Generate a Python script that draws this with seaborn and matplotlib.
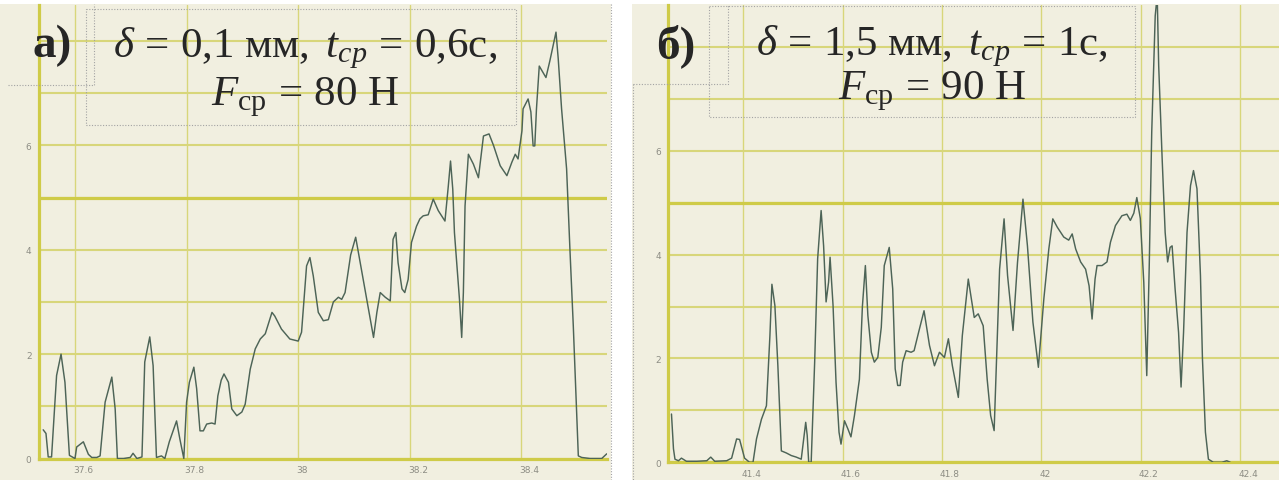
import matplotlib
matplotlib.use("Agg")
import matplotlib.pyplot as plt
import seaborn as sns
from matplotlib.patches import Rectangle
from matplotlib.lines import Line2D
import matplotlib.transforms as mtrans

# ---------------- data ----------------
left_t = [37.543, 37.548, 37.552, 37.558, 37.567, 37.575, 37.582, 37.590, 37.600, 37.603,
          37.615, 37.624, 37.630, 37.639, 37.645, 37.654, 37.666, 37.672, 37.676, 37.687,
          37.699, 37.704, 37.711, 37.720, 37.725, 37.734, 37.740, 37.746, 37.755, 37.761,
          37.769, 37.782, 37.788, 37.795, 37.800, 37.805, 37.813, 37.818, 37.824, 37.830,
          37.836, 37.845, 37.851, 37.856, 37.862, 37.867, 37.875, 37.881, 37.890, 37.899,
          37.905, 37.914, 37.923, 37.932, 37.941, 37.953, 37.958, 37.970, 37.985, 38.000,
          38.006, 38.015, 38.021, 38.027, 38.036, 38.045, 38.054, 38.063, 38.072, 38.078,
          38.084, 38.094, 38.103, 38.111, 38.123, 38.135, 38.141, 38.147, 38.156, 38.165,
          38.170, 38.175, 38.179, 38.186, 38.191, 38.197, 38.203, 38.212, 38.218, 38.224,
          38.233, 38.242, 38.251, 38.263, 38.269, 38.273, 38.277, 38.280, 38.284, 38.289,
          38.293, 38.296, 38.299, 38.305, 38.314, 38.323, 38.332, 38.342, 38.350, 38.362,
          38.374, 38.383, 38.389, 38.394, 38.401, 38.403, 38.412, 38.417, 38.421, 38.424,
          38.427, 38.432, 38.439, 38.444, 38.451, 38.462, 38.466, 38.472, 38.481, 38.487,
          38.493, 38.498, 38.502, 38.508, 38.523, 38.535, 38.544, 38.553]
left_f = [0.55, 0.48, 0.03, 0.03, 1.59, 2.00, 1.46, 0.06, 0.00, 0.22,
          0.32, 0.08, 0.02, 0.02, 0.05, 1.08, 1.56, 0.95, 0.00, 0.00,
          0.02, 0.10, 0.00, 0.03, 1.85, 2.33, 1.78, 0.02, 0.05, 0.00,
          0.32, 0.72, 0.37, 0.00, 1.08, 1.46, 1.75, 1.34, 0.53, 0.53,
          0.66, 0.68, 0.66, 1.20, 1.50, 1.62, 1.46, 0.95, 0.82, 0.89,
          1.04, 1.71, 2.10, 2.29, 2.39, 2.80, 2.73, 2.48, 2.29, 2.25,
          2.42, 3.69, 3.85, 3.50, 2.80, 2.64, 2.66, 3.00, 3.09, 3.05,
          3.18, 3.90, 4.24, 3.76, 3.05, 2.32, 2.80, 3.18, 3.09, 3.02,
          4.20, 4.33, 3.75, 3.25, 3.18, 3.43, 4.14, 4.45, 4.59, 4.65,
          4.67, 4.97, 4.75, 4.55, 5.22, 5.70, 5.16, 4.33, 3.76, 3.05,
          2.32, 3.18, 4.84, 5.83, 5.64, 5.38, 6.18, 6.22, 6.00, 5.61,
          5.42, 5.68, 5.83, 5.74, 6.28, 6.70, 6.89, 6.64, 5.99, 5.99,
          6.70, 7.52, 7.39, 7.30, 7.62, 8.17, 7.66, 6.70, 5.55, 4.00,
          2.54, 1.14, 0.05, 0.02, 0.00, 0.00, 0.00, 0.09]

right_t = [41.256, 41.260, 41.263, 41.270, 41.276, 41.286, 41.307, 41.327, 41.335, 41.343,
           41.367, 41.377, 41.387, 41.393, 41.403, 41.413, 41.420, 41.427, 41.437, 41.447,
           41.454, 41.458, 41.464, 41.470, 41.477, 41.487, 41.497, 41.507, 41.517, 41.526,
           41.529, 41.532, 41.537, 41.544, 41.550, 41.557, 41.562, 41.567, 41.572, 41.575,
           41.581, 41.587, 41.593, 41.597, 41.604, 41.611, 41.617, 41.624, 41.634, 41.640,
           41.646, 41.651, 41.658, 41.664, 41.671, 41.678, 41.684, 41.694, 41.701, 41.706,
           41.711, 41.716, 41.721, 41.728, 41.738, 41.744, 41.754, 41.764, 41.775, 41.785,
           41.795, 41.805, 41.813, 41.821, 41.833, 41.841, 41.853, 41.865, 41.873, 41.883,
           41.891, 41.898, 41.905, 41.910, 41.916, 41.925, 41.932, 41.943, 41.952, 41.963,
           41.972, 41.983, 41.994, 42.005, 42.015, 42.023, 42.032, 42.045, 42.055, 42.062,
           42.069, 42.079, 42.089, 42.096, 42.102, 42.108, 42.112, 42.122, 42.132, 42.139,
           42.149, 42.162, 42.172, 42.179, 42.186, 42.192, 42.199, 42.206, 42.212, 42.217,
           42.222, 42.229, 42.233, 42.236, 42.243, 42.249, 42.254, 42.259, 42.263, 42.269,
           42.276, 42.281, 42.286, 42.293, 42.300, 42.306, 42.313, 42.320, 42.324, 42.330,
           42.336, 42.346, 42.363, 42.373, 42.380]
right_f = [0.93, 0.26, 0.06, 0.03, 0.08, 0.02, 0.02, 0.03, 0.10, 0.02,
           0.03, 0.08, 0.45, 0.44, 0.08, 0.00, 0.00, 0.45, 0.83, 1.09,
           2.44, 3.43, 3.02, 1.86, 0.22, 0.18, 0.13, 0.10, 0.06, 0.77,
           0.52, 0.00, 0.00, 1.93, 3.92, 4.85, 4.17, 3.09, 3.47, 3.95,
           3.02, 1.54, 0.58, 0.35, 0.80, 0.64, 0.49, 0.90, 1.60, 3.00,
           3.79, 2.83, 2.12, 1.93, 2.02, 2.60, 3.79, 4.14, 3.34, 1.80,
           1.48, 1.48, 1.93, 2.15, 2.12, 2.15, 2.54, 2.92, 2.25, 1.86,
           2.12, 2.02, 2.38, 1.86, 1.25, 2.44, 3.53, 2.79, 2.86, 2.63,
           1.60, 0.90, 0.61, 2.05, 3.72, 4.69, 3.60, 2.54, 3.85, 5.07,
           4.17, 2.70, 1.83, 3.15, 4.11, 4.69, 4.53, 4.34, 4.28, 4.40,
           4.11, 3.86, 3.72, 3.40, 2.76, 3.53, 3.79, 3.79, 3.86, 4.24,
           4.56, 4.75, 4.78, 4.66, 4.80, 5.10, 4.70, 3.47, 1.67, 3.79,
           6.36, 8.60, 9.00, 7.64, 5.84, 4.43, 3.86, 4.14, 4.17, 3.34,
           2.50, 1.45, 2.50, 4.43, 5.33, 5.62, 5.27, 3.60, 2.00, 0.58,
           0.06, 0.00, 0.00, 0.03, 0.00]

left_ticks = [37.6, 37.8, 38.0, 38.2, 38.4]
left_tick_labels = ["37.6", "37.8", "38", "38.2", "38.4"]
right_ticks = [41.4, 41.6, 41.8, 42.0, 42.2, 42.4]
right_tick_labels = ["41.4", "41.6", "41.8", "42", "42.2", "42.4"]
y_ticks = [0, 1, 2, 3, 4, 5, 6, 7, 8]
y_tick_labels = ["0", "", "2", "", "4", "", "6", "", ""]
panel_labels = ["а)", "б)"]
line1_texts = [r"$\delta\,=\,0{,}1\ \mathrm{мм},\ t_{ср}\,=\,0{,}6\mathrm{с},$",
               r"$\delta\,=\,1{,}5\ \mathrm{мм},\ t_{ср}\,=\,1\mathrm{с},$"]
line2_texts = [r"$F_{\mathrm{ср}}\,=\,80\ \mathrm{Н}$",
               r"$F_{\mathrm{ср}}\,=\,90\ \mathrm{Н}$"]

# ---------------- style ----------------
sns.set_style("white")
plt.rcParams["font.family"] = ["Liberation Serif", "DejaVu Sans"]
plt.rcParams["mathtext.fontset"] = "custom"
plt.rcParams["mathtext.rm"] = "Liberation Serif"
plt.rcParams["mathtext.it"] = "Liberation Serif:italic"
plt.rcParams["mathtext.bf"] = "Liberation Serif:bold"

BG = "#f1efe0"
GRID = "#d8d67a"
GRID_STRONG = "#cfcb48"
LINE = "#4d6457"
LABEL = "#8d8d84"
TEXT = "#262626"
BOX = "#a3a3a3"

W, H = 1279, 481
fig = plt.figure(figsize=(W / 100, H / 100), dpi=100)
fig.patch.set_facecolor("white")


def fx(px):
    return px / W


def fy(py):
    return 1 - py / H


# panel backgrounds
fig.add_artist(Rectangle((fx(0), fy(481)), fx(611), (481 - 5) / H,
                         transform=fig.transFigure, facecolor=BG,
                         edgecolor="none", zorder=0))
fig.add_artist(Rectangle((fx(632), fy(481)), fx(W - 632), (481 - 5) / H,
                         transform=fig.transFigure, facecolor=BG,
                         edgecolor="none", zorder=0))


def dotted(xs, ys):
    fig.add_artist(Line2D([fx(x) for x in xs], [fy(y) for y in ys],
                          transform=fig.transFigure, color=BOX, lw=0.8,
                          ls=(0, (1, 1.5)), zorder=5))


panels = [
    dict(rect=(38.5, 607, 6, 459.5), xlim=(37.5346, 38.5534), ylim=(0, 8.69),
         t=left_t, f=left_f, ticks=left_ticks, labels=left_tick_labels),
    dict(rect=(668, 1279, 6, 463.3), xlim=(41.249, 42.478), ylim=(0, 8.81),
         t=right_t, f=right_f, ticks=right_ticks, labels=right_tick_labels),
]

for p in panels:
    x0, x1, yt, yb = p["rect"]
    ax = fig.add_axes([fx(x0), fy(yb), (x1 - x0) / W, (yb - yt) / H])
    ax.set_facecolor(BG)
    ax.set_xlim(*p["xlim"])
    ax.set_ylim(*p["ylim"])
    ax.set_xticks(p["ticks"])
    ax.set_xticklabels(p["labels"])
    ax.set_yticks(y_ticks)
    ax.set_yticklabels(y_tick_labels)
    ax.tick_params(length=0, labelsize=6.5, labelcolor=LABEL)
    ax.tick_params(axis="x", pad=5)
    ax.tick_params(axis="y", pad=5)
    for lab in ax.get_xticklabels() + ax.get_yticklabels():
        lab.set_family("DejaVu Sans")
    for lab in ax.get_xticklabels():
        lab.set_ha("left")
        lab.set_transform(lab.get_transform() +
                          mtrans.ScaledTranslation(-2 / 100, 0, fig.dpi_scale_trans))
    ax.grid(True, axis="y", color=GRID, lw=1.5, zorder=1)
    ax.grid(True, axis="x", color=GRID, lw=1.0, zorder=1)
    ax.set_axisbelow(True)
    ax.axhline(5, color=GRID_STRONG, lw=2.3, zorder=1.5)
    for s in ["top", "right"]:
        ax.spines[s].set_visible(False)
    for s in ["left", "bottom"]:
        ax.spines[s].set_color(GRID_STRONG)
        ax.spines[s].set_linewidth(2.3)
        ax.spines[s].set_zorder(1.6)
    sns.lineplot(x=p["t"], y=p["f"], ax=ax, color=LINE, linewidth=1.05,
                 estimator=None, sort=False, zorder=3)
    ax.set_xlabel("")
    ax.set_ylabel("")

# dotted boxes
dotted([86, 516, 516, 86, 86], [10, 10, 126, 126, 10])
dotted([8, 94, 94], [86, 86, 5])
dotted([611, 611], [5, 481])
dotted([709, 1135, 1135, 709, 709], [7, 7, 118, 118, 7])
dotted([633, 728, 728], [85, 85, 5])
dotted([633, 633], [85, 481])

# texts
fig.text(fx(33), fy(57), panel_labels[0], fontsize=34, fontweight="bold",
         color=TEXT, ha="left", va="baseline", family=["Liberation Serif", "DejaVu Serif"])
fig.text(fx(656), fy(58), panel_labels[1], fontsize=34, fontweight="bold",
         color=TEXT, ha="left", va="baseline", family=["Liberation Serif", "DejaVu Serif"])
fig.text(fx(305), fy(57), line1_texts[0], fontsize=31, color=TEXT,
         ha="center", va="baseline")
fig.text(fx(305), fy(105), line2_texts[0], fontsize=31, color=TEXT,
         ha="center", va="baseline")
fig.text(fx(932), fy(55), line1_texts[1], fontsize=31, color=TEXT,
         ha="center", va="baseline")
fig.text(fx(932), fy(99), line2_texts[1], fontsize=31, color=TEXT,
         ha="center", va="baseline")

fig.savefig("out.png", dpi=100, facecolor="white")
